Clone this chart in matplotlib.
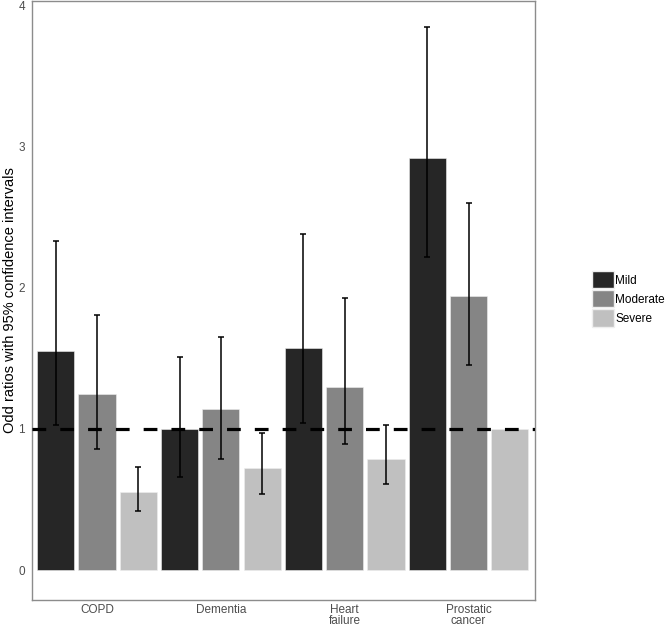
import numpy as np
import matplotlib.pyplot as plt
from matplotlib.patches import Patch

plt.rcParams["font.family"] = ["Liberation Sans", "DejaVu Sans"]

categories = ["COPD", "Dementia", "Heart\nfailure", "Prostatic\ncancer"]
severities = ["Mild", "Moderate", "Severe"]
colors = ["#262626", "#858585", "#c0c0c0"]

# odds ratios and 95% CI per severity (order: COPD, Dementia, Heart failure, Prostatic cancer)
odds = {
    "Mild":     [1.55, 1.00, 1.57, 2.92],
    "Moderate": [1.25, 1.14, 1.30, 1.94],
    "Severe":   [0.55, 0.72, 0.79, 1.00],
}
ci_low = {
    "Mild":     [1.03, 0.66, 1.04, 2.22],
    "Moderate": [0.86, 0.79, 0.89, 1.45],
    "Severe":   [0.42, 0.54, 0.61, np.nan],
}
ci_high = {
    "Mild":     [2.33, 1.51, 2.38, 3.85],
    "Moderate": [1.81, 1.65, 1.93, 2.60],
    "Severe":   [0.73, 0.97, 1.03, np.nan],
}

fig = plt.figure(figsize=(6.66, 6.28), dpi=100)
ax = fig.add_axes([0.048, 0.045, 0.755, 0.953])

x = np.arange(1, len(categories) + 1)
handles = []
for i, sev in enumerate(severities):
    pos = x + (i - 1) / 3
    vals = np.array(odds[sev])
    lo = np.array(ci_low[sev])
    hi = np.array(ci_high[sev])
    ax.bar(pos, vals, width=0.3, color=colors[i], edgecolor="#eeeeee",
           linewidth=0.4, zorder=2)
    ok = ~np.isnan(lo)
    ax.errorbar(pos[ok], vals[ok], yerr=[vals[ok] - lo[ok], hi[ok] - vals[ok]],
                fmt="none", ecolor="black", elinewidth=1.1, capsize=2.2,
                capthick=1.1, zorder=3)
    handles.append(Patch(facecolor=colors[i], edgecolor="#eeeeee", label=sev))

ax.axhline(1, color="black", linewidth=2.3, dashes=(4.3, 4.4), zorder=4)

ax.set_xlim(0.475, 4.535)
ax.set_ylim(-0.21, 4.03)
ax.set_xticks(x)
ax.set_xticklabels(categories, fontsize=8.5, color="#4d4d4d", linespacing=0.95)
ax.set_yticks([0, 1, 2, 3, 4])
ax.set_yticklabels(["0", "1", "2", "3", "4"], fontsize=8.5, color="#4d4d4d")
ax.tick_params(axis="x", length=0, pad=3)
ax.tick_params(axis="y", length=0, pad=5)
ax.set_ylabel("Odd ratios with 95% confidence intervals", fontsize=10.5)
ax.yaxis.set_label_coords(-0.030, 0.5)
for s in ax.spines.values():
    s.set_color("#8c8c8c")
    s.set_linewidth(1.0)

fig.legend(handles=handles, loc="center left", bbox_to_anchor=(0.889, 0.524),
           frameon=False, fontsize=8.5, handlelength=1.85, handleheight=1.85,
           handletextpad=0.12, labelspacing=0.17, borderaxespad=0, borderpad=0)

fig.savefig("out.png", dpi=100)
